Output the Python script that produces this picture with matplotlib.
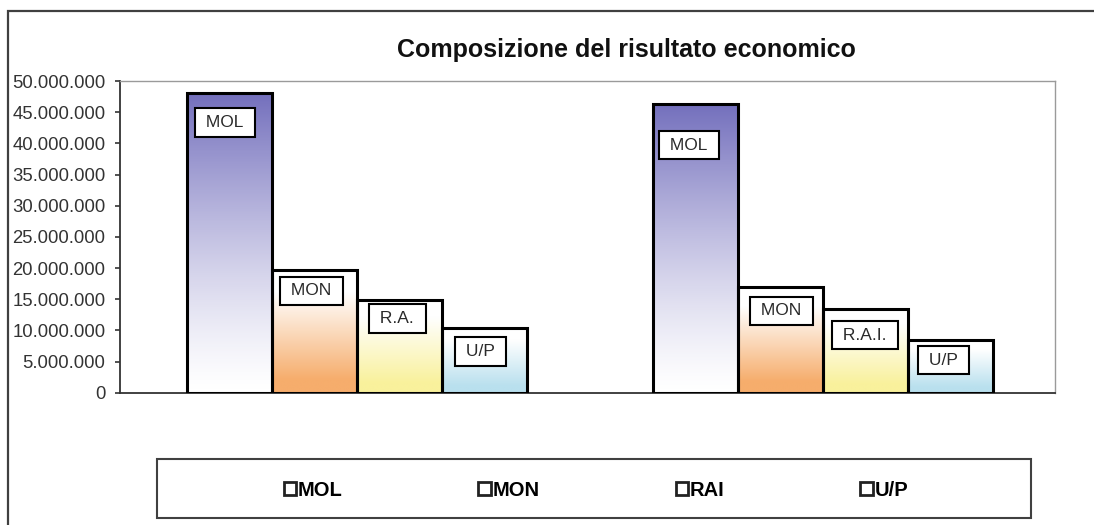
import numpy as np
import matplotlib
matplotlib.use("Agg")
import matplotlib.pyplot as plt
from matplotlib.patches import Rectangle, Patch
from matplotlib.colors import LinearSegmentedColormap
from matplotlib.ticker import FuncFormatter, MultipleLocator

plt.rcParams['font.family'] = ['Liberation Sans', 'DejaVu Sans']

# dati (euro)
groups = [0, 1]
series = ["MOL", "MON", "RAI", "U/P"]
mol = [48.0e6, 46.3e6]
mon = [19.7e6, 17.0e6]
rai = [14.8e6, 13.4e6]
up = [10.3e6, 8.45e6]
bar_labels = [["MOL", "MON", "R.A.", "U/P"],
              ["MOL", "MON", "R.A.I.", "U/P"]]
title = "Composizione del risultato economico"

# stile
colors = ["#7470bd", "#f6ad6c", "#f9f19c", "#b9e0ee"]
color_on_top = [True, False, False, False]
# posizione dei riquadri etichetta rispetto all'angolo alto-sinistro della barra (pixel)
box_dx = [[8, 8, 12, 13], [6, 12, 9, 10]]
box_dy = [[15, 7, 4, 9], [27, 10, 12, 6]]
lbl_size = 12.5
lbl_pad = 0.38

W, H = 1094, 525
fig = plt.figure(figsize=(W / 100, H / 100), dpi=100)
fig.patch.set_facecolor("white")

# cornice esterna
fig.patches.append(Rectangle((8 / W, -0.1), 1.2, 1 - 11 / H + 0.1, transform=fig.transFigure,
                             fill=False, edgecolor="#404040", lw=1.6))

ax = fig.add_axes([120 / W, 1 - 392.7 / H, 935 / W, (392.7 - 81) / H])
ax.set_facecolor("white")

values = [mol, mon, rai, up]
bw = 85 / 466
offsets = np.array([-1.5, -0.5, 0.5, 1.5]) * bw
pad_px = lbl_pad * lbl_size * 100 / 72

for si, vals in enumerate(values):
    xs = np.array(groups) + offsets[si]
    bars = ax.bar(xs, vals, width=bw, facecolor="none", edgecolor="black", lw=2.2, zorder=3)
    cmap = LinearSegmentedColormap.from_list("g", ["white", colors[si]])
    for gi, b in enumerate(bars):
        x0, h = b.get_x(), b.get_height()
        grad = np.linspace(0, 1, 256).reshape(-1, 1)
        if color_on_top[si]:
            grad = grad ** 1.3  # imshow origin lower: top = 1
        else:
            grad = np.clip((1 - grad) * 1.4 - 0.25, 0, 1)
        im = ax.imshow(grad, cmap=cmap, vmin=0, vmax=1, origin="lower", aspect="auto",
                       extent=[x0, x0 + bw, 0, h], zorder=2, interpolation="bilinear")
        im.set_clip_path(b)
        ax.annotate(" " + bar_labels[gi][si] + " ", xy=(x0, h), xycoords="data",
                    xytext=(box_dx[gi][si] + pad_px, -(box_dy[gi][si] + pad_px)),
                    textcoords="offset pixels", ha="left", va="top",
                    fontsize=lbl_size, color="#2a2a2a", zorder=5,
                    bbox=dict(boxstyle=f"square,pad={lbl_pad}", facecolor="white",
                              edgecolor="black", lw=1.5))

ax.set_xlim(-0.508, 1.498)
ax.set_ylim(0, 50e6)
ax.yaxis.set_major_locator(MultipleLocator(5e6))
ax.yaxis.set_major_formatter(FuncFormatter(lambda v, p: f"{int(v):,}".replace(",", ".")))
ax.set_xticks([])
ax.tick_params(axis="y", direction="out", length=3.6, width=1.2, color="#333333",
               labelsize=13.3, labelcolor="#333333", pad=7)
for s in ["top", "right"]:
    ax.spines[s].set_color("#9a9a9a")
    ax.spines[s].set_linewidth(1.0)
for s in ["left", "bottom"]:
    ax.spines[s].set_color("#333333")
    ax.spines[s].set_linewidth(1.3)

fig.text(626 / W, 1 - 50 / H, title, ha="center", va="center", fontsize=18,
         fontweight="bold", color="#111111")

# legenda
fig.patches.append(Rectangle((157 / W, 1 - 518 / H), 874 / W, 59 / H, transform=fig.transFigure,
                             fill=False, edgecolor="#404040", lw=1.5))
handles = [Patch(facecolor="white", edgecolor="#222222", lw=2) for _ in series]
fig.legend(handles, series, loc="center", bbox_to_anchor=(596 / W, 1 - 490 / H), ncol=4,
           frameon=False, handlelength=0.6, handleheight=0.6, handletextpad=0.1,
           columnspacing=6.75, prop=dict(size=14.5, weight="bold"))

fig.savefig("out.png", dpi=100)
